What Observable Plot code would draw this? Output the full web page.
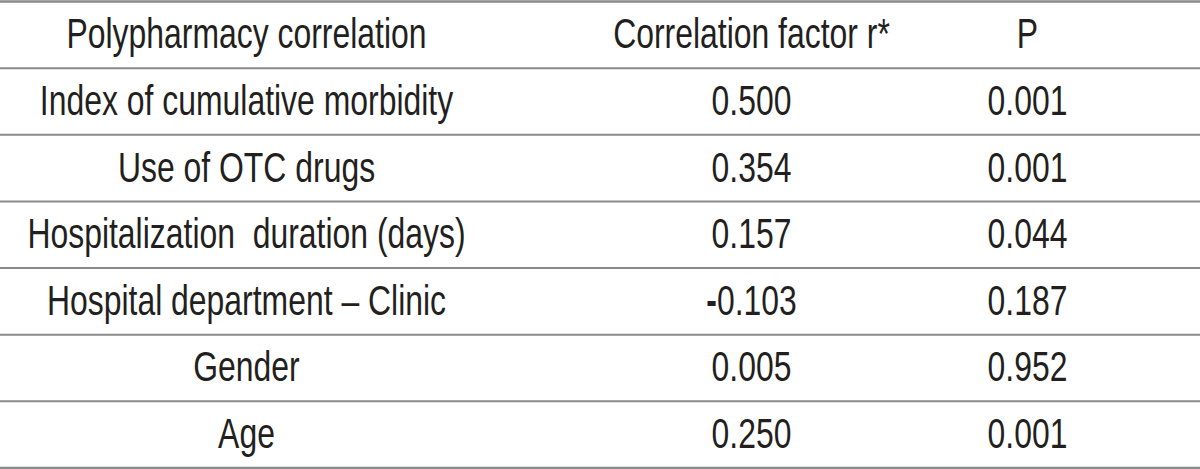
<!DOCTYPE html>
<html>
<head>
<meta charset="utf-8">
<script src="https://cdn.jsdelivr.net/npm/d3@7"></script>
<script src="https://cdn.jsdelivr.net/npm/@observablehq/plot@0.6"></script>
<style>
  html, body { margin: 0; padding: 0; background: #fff; }
  #chart svg { display: block; }
</style>
</head>
<body>
<div id="chart"></div>
<script>
// ---- data ----
const headers = ["Polypharmacy correlation", "Correlation factor r*", "P"];
const factors = [
  "Index of cumulative morbidity",
  "Use of OTC drugs",
  "Hospitalization  duration (days)",
  "Hospital department \u2013 Clinic",
  "Gender",
  "Age"
];
const rValues = [0.500, 0.354, 0.157, -0.103, 0.005, 0.250];
const pValues = [0.001, 0.001, 0.044, 0.187, 0.952, 0.001];

// ---- layout ----
const W = 1200, H = 469;
const columnCenter = [246, 751, 1027];
const condense = 0.76;
const fmt = v => (v < 0 ? "-" : "") + d3.format(".3f")(Math.abs(v));

const cells = [];
headers.forEach((h, c) => cells.push({row: 0, col: c, text: h}));
factors.forEach((f, i) => {
  cells.push({row: i + 1, col: 0, text: f});
  cells.push({row: i + 1, col: 1, text: fmt(rValues[i])});
  cells.push({row: i + 1, col: 2, text: fmt(pValues[i])});
});
const nRows = factors.length + 1;
const lines = d3.range(0, nRows + 1);

const chart = Plot.plot({
  width: W,
  height: H,
  margin: 0,
  x: {domain: [0, W], range: [0, W], axis: null},
  y: {domain: [0, nRows], range: [1, H - 1.5], axis: null},
  style: {fontFamily: "'Liberation Sans', Arial, sans-serif", background: "#fff"},
  marks: [
    Plot.ruleY(lines, {
      y: d => d,
      stroke: "#8a8a8a",
      strokeWidth: d => (d === 0 || d === nRows) ? 2.5 : 2
    }),
    Plot.text(cells, {
      x: d => columnCenter[d.col],
      y: d => d.row + 0.5,
      text: "text",
      fontSize: 42,
      fill: "#231f20",
      textAnchor: "middle",
      lineAnchor: "middle"
    })
  ]
});
document.getElementById("chart").append(chart);

// condense the glyphs horizontally around each text's own centre
const ns = "http://www.w3.org/2000/svg";
chart.querySelectorAll("text").forEach(t => {
  t.setAttribute("xml:space", "preserve");
  t.style.whiteSpace = "pre";
  const s = t.textContent;
  if (/^-\d/.test(s)) {
    t.textContent = "";
    const a = document.createElementNS(ns, "tspan");
    a.setAttribute("font-weight", "bold");
    a.textContent = "-";
    const b = document.createElementNS(ns, "tspan");
    b.textContent = s.slice(1);
    t.append(a, b);
  }
});
chart.querySelectorAll("text").forEach(t => {
  const bb = t.getBBox(); // local coordinates (before the text's own transform)
  const cx = bb.x + bb.width / 2;
  const prev = t.getAttribute("transform") || "";
  t.setAttribute("transform",
    `${prev} translate(${cx},0) scale(${condense},1) translate(${-cx},0)`.trim());
});
</script>
</body>
</html>
